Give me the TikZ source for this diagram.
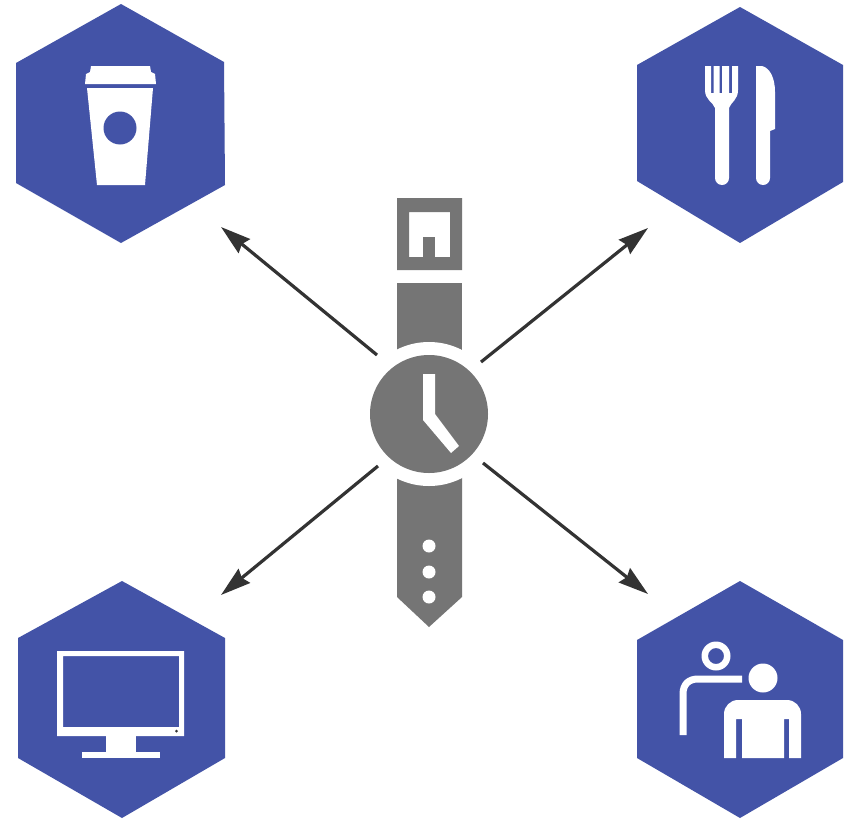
\documentclass[tikz,border=0pt]{standalone}
\usetikzlibrary{arrows.meta}
\definecolor{hexblue}{HTML}{4353A7}
\definecolor{watchgray}{HTML}{757575}
\definecolor{arrowdark}{HTML}{333333}
\tikzset{
  hexshape/.style={fill=hexblue,draw=none},
  iconpart/.style={fill=white,draw=none},
  iconhole/.style={fill=hexblue,draw=none},
  watchpart/.style={fill=watchgray,draw=none},
  watchcut/.style={fill=white,draw=none},
  pointer/.style={draw=arrowdark,line width=3.2pt,-{Stealth[length=30pt,width=18pt,inset=3pt]}},
}
\begin{document}
\begin{tikzpicture}[x=1pt,y=-1pt]
\useasboundingbox (0,0) rectangle (848,819);
\fill[white] (0,0) rectangle (848,819);
% hexagons
\fill[hexshape] (121,4) -- (224,62) -- (225,185) -- (121,243) -- (16,183) -- (16,63) -- cycle;
\fill[hexshape] (740,7) -- (843,65) -- (843,182) -- (740,243) -- (637,181) -- (637,65) -- cycle;
\fill[hexshape] (122,581) -- (225,638) -- (225,758) -- (122,818) -- (18,758) -- (18,638) -- cycle;
\fill[hexshape] (740,581) -- (843,640) -- (843,758) -- (740,818) -- (637,758) -- (637,640) -- cycle;
% cup
\fill[iconpart] (91,66) -- (150,66) -- (151,72) -- (155,74) -- (156,84) -- (85,84) -- (86,74) -- (90,72) -- cycle;
\fill[iconpart] (87,88) -- (153,88) -- (145,185) -- (97,185) -- cycle;
\fill[iconhole] (120,128) circle (16.5);
% fork
\fill[iconpart] (705,66) -- (711,66) -- (711,93) -- (713.5,93) -- (713.5,66) -- (719.5,66) -- (719.5,93) -- (722,93) -- (722,66) -- (729,66) -- (729,93) -- (732,93) -- (732,66) -- (738,66) -- (738,90)
  .. controls (738,100) and (731,102) .. (729,108) -- (729,178) arc[start angle=0,end angle=180,radius=7] -- (715,108)
  .. controls (713,102) and (705,100) .. (705,90) -- cycle;
% knife
\fill[iconpart] (756,66) -- (762,66) .. controls (770,68) and (775,78) .. (775,92) -- (775,129) -- (770,131) -- (770,178) arc[start angle=0,end angle=180,radius=7] -- cycle;
% monitor
\fill[iconpart,even odd rule] (57,651) rectangle (184,736) (63,656) rectangle (179,727);
\fill[iconpart] (106,736) rectangle (136,752);
\fill[iconpart] (82,752) rectangle (160,758);
\fill[arrowdark] (176.5,731) circle (1.5);
% person
\fill[iconpart,even odd rule] (716,656) circle (14.5) (716,656) circle (8);
\draw[white,line width=7pt] (683,735) -- (683,694) .. controls (683,684) and (689,679) .. (698,679) -- (742,679);
\fill[iconpart] (763,678) circle (14.5);
\fill[iconpart] (724,758) -- (724,714) arc[start angle=180,end angle=270,radius=14] -- (787,700) arc[start angle=270,end angle=360,radius=14] -- (801,758) -- (789,758) -- (789,719) -- (784,719) -- (784,758) -- (742,758) -- (742,719) -- (736,719) -- (736,758) -- cycle;
% watch
\fill[watchpart,even odd rule] (397,198) rectangle (462,270) (409,212) rectangle (450,257);
\fill[watchpart] (423,237) rectangle (435,257);
\fill[watchpart] (397,283) rectangle (462,360);
\fill[watchpart] (397,470) -- (462,470) -- (462,597) -- (429,627) -- (397,597) -- cycle;
\fill[watchcut] (429,414) circle (72);
\node[circle,fill=watchgray,minimum size=118pt,inner sep=0pt] (hub) at (429,414) {};
\fill[watchcut] (423,374) -- (435,374) -- (435,414) -- (459,446) -- (451,453) -- (423,420) -- cycle;
\fill[watchcut] (429,546) circle (6.5);
\fill[watchcut] (429,572) circle (6.5);
\fill[watchcut] (429,597) circle (6.5);
% connectors
\coordinate (tlS) at (377,355); \coordinate (tlE) at (221,227);
\coordinate (trS) at (481,362); \coordinate (trE) at (648,228);
\coordinate (blS) at (378,466); \coordinate (blE) at (221,595);
\coordinate (brS) at (483,463); \coordinate (brE) at (648,594);
\draw[pointer] (tlS) -- (tlE);
\draw[pointer] (trS) -- (trE);
\draw[pointer] (blS) -- (blE);
\draw[pointer] (brS) -- (brE);
\end{tikzpicture}
\end{document}
